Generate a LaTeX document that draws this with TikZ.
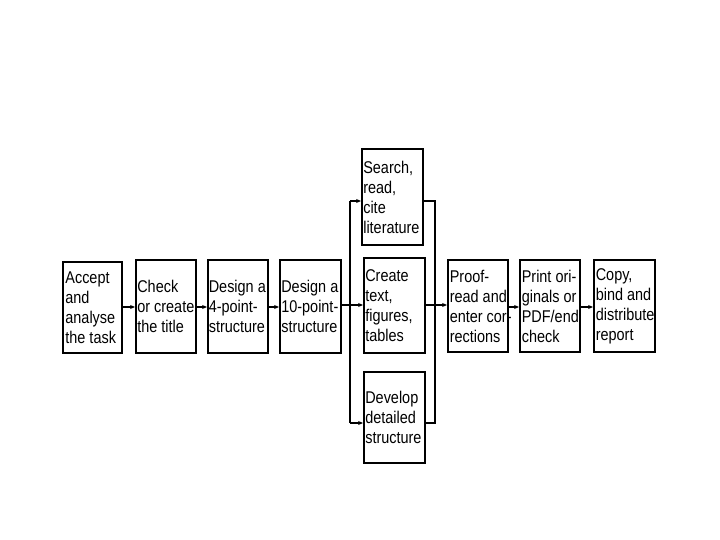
\documentclass[tikz,border=0pt]{standalone}
\usepackage{fontspec}
\setmainfont{Liberation Sans}[FakeStretch=0.85]
\usetikzlibrary{arrows.meta}
\begin{document}
\begin{tikzpicture}[x=1pt,y=-1pt,
  box/.style={draw, line width=1.8pt, minimum width=60pt, minimum height=93pt, inner sep=0pt},
  txt/.style={anchor=west, align=left, inner sep=0pt, font=\fontsize{17}{20}\selectfont},
  arr/.style={line width=1.1pt, -{Stealth[length=5pt,width=4pt]}},
  ln/.style={line width=1.3pt}]
\useasboundingbox (0,0) rectangle (720,540);
\node[box, line width=2.6pt, minimum width=59pt, minimum height=91pt] (a) at (92.5,307.5) {};
\node[box] (b) at (166,306.5) {};
\node[box] (c4) at (238,306.5) {};
\node[box, minimum width=61pt] (c10) at (310.5,306.5) {};
\node[box, minimum width=61pt, minimum height=96pt] (s) at (392.5,197) {};
\node[box, minimum width=61pt, minimum height=95pt] (cr) at (394.5,305.5) {};
\node[box, minimum width=61pt, minimum height=91pt] (dv) at (394.5,417.5) {};
\node[box, minimum height=92pt] (p) at (478,306) {};
\node[box, minimum height=92pt] (pr) at (550,306) {};
\node[box, minimum width=61pt, minimum height=92pt] (cp) at (624.5,306) {};
\node[txt] (at) at ([xshift=3.5pt]a.west) {Accept\\and\\analyse\\the task};
\node[txt] (bt) at ([xshift=2pt]b.west) {Check\\or create\\the title};
\node[txt] (c4t) at ([xshift=1.5pt]c4.west) {Design a\\4-point-\\structure};
\node[txt] (c10t) at ([xshift=2pt]c10.west) {Design a\\10-point-\\structure};
\node[txt] (st) at ([xshift=2pt]s.west) {Search,\\read,\\cite\\literature};
\node[txt] (crt) at ([xshift=2pt]cr.west) {Create\\text,\\figures,\\tables};
\node[txt] (dvt) at ([xshift=2pt]dv.west) {Develop\\detailed\\structure};
\node[txt] (pt) at ([xshift=2.5pt]p.west) {Proof-\\read and\\enter cor-\\rections};
\node[txt] (prt) at ([xshift=2.5pt]pr.west) {Print ori-\\ginals or\\PDF/end\\check};
\node[txt] (cpt) at ([xshift=2.5pt]cp.west) {Copy,\\bind and\\distribute\\report};
\coordinate (lt) at (350,201);
\coordinate (lb) at (350,423);
\coordinate (rt) at (435,201);
\coordinate (rb) at (435,423);
\draw[arr] (a.east |- 0,307) -- (b.west |- 0,307);
\draw[arr] (b.east |- 0,307) -- (c4.west |- 0,307);
\draw[arr] (c4.east |- 0,307) -- (c10.west |- 0,307);
\draw[arr] (c10.east |- 0,305) -- (cr.west |- 0,305);
\draw[ln] (lt) -- (lb);
\draw[arr] (lt) -- (s.west |- lt);
\draw[arr] (lb) -- (dv.west |- lb);
\draw[ln] (s.east |- rt) -- (rt) -- (rb) -- (dv.east |- rb);
\draw[arr] (cr.east |- 0,305) -- (p.west |- 0,305);
\draw[arr] (p.east |- 0,307) -- (pr.west |- 0,307);
\draw[arr] (pr.east |- 0,307) -- (cp.west |- 0,307);
\end{tikzpicture}
\end{document}
